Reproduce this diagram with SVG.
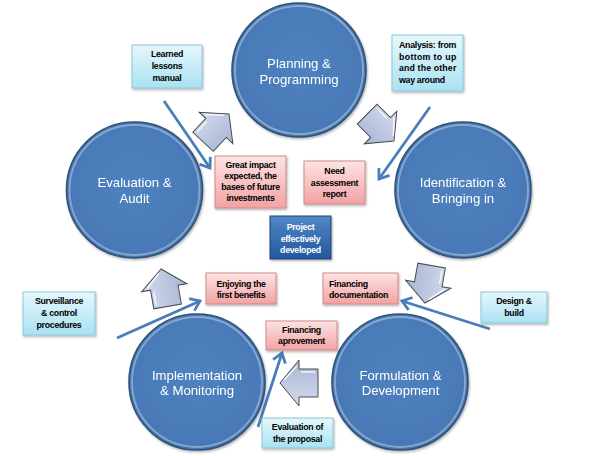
<svg xmlns="http://www.w3.org/2000/svg" xmlns:xlink="http://www.w3.org/1999/xlink" width="598" height="456" viewBox="0 0 598 456">
<style>
.circ{fill:url(#gCirc);stroke:#2f5376;stroke-width:1.6}
.ring{fill:none;stroke:#ffffff;stroke-opacity:0.35;stroke-width:1.8}
.ct{font-family:"Liberation Sans",Arial,sans-serif;font-size:13.2px;fill:#ffffff;text-anchor:middle}
.bt{font-family:"Liberation Sans",Arial,sans-serif;font-size:8.8px;letter-spacing:-0.3px;font-weight:bold;fill:#000000;text-anchor:middle}
.wt{fill:#ffffff}
.cyan{fill:url(#gCyan);stroke:#8cc7d8;stroke-width:1}
.pink{fill:url(#gPink);stroke:#d08a8a;stroke-width:1}
.blue{fill:url(#gBlue);stroke:#1f4476;stroke-width:1}
.thin{fill:none;stroke:#4a7ebb;stroke-width:2.8;marker-end:url(#chev)}
.blk{fill:url(#gBlk);stroke:#4a4a4a;stroke-width:1}
.hl{fill:none;stroke:#ffffff;stroke-opacity:0.8;stroke-width:1.5}
</style>
<defs>
<radialGradient id="gCirc" cx="0.5" cy="0.45" r="0.6">
<stop offset="0" stop-color="#4f82bf"/>
<stop offset="1" stop-color="#4677b4"/>
</radialGradient>
<linearGradient id="gCyan" x1="0" y1="0" x2="0" y2="1">
<stop offset="0" stop-color="#e6f7fc"/>
<stop offset="1" stop-color="#a9e2f2"/>
</linearGradient>
<linearGradient id="gPink" x1="0" y1="0" x2="0" y2="1">
<stop offset="0" stop-color="#fde3e3"/>
<stop offset="1" stop-color="#f2a3a3"/>
</linearGradient>
<linearGradient id="gBlue" x1="0" y1="0" x2="0" y2="1">
<stop offset="0" stop-color="#5088c8"/>
<stop offset="1" stop-color="#24569b"/>
</linearGradient>
<linearGradient id="gBlk" x1="0" y1="0" x2="0" y2="1">
<stop offset="0" stop-color="#d3dbec"/>
<stop offset="1" stop-color="#a8b6d6"/>
</linearGradient>
<filter id="sh" x="-10%" y="-10%" width="130%" height="130%">
<feDropShadow dx="1" dy="1.5" stdDeviation="1" flood-color="#000" flood-opacity="0.3"/>
</filter>
<marker id="chev" markerUnits="userSpaceOnUse" markerWidth="16" markerHeight="16" refX="11" refY="8" orient="auto">
<path d="M2,1.5 L11,8 L2,14.5" fill="none" stroke="#4a7ebb" stroke-width="2.8" stroke-linejoin="miter"/>
</marker>
<path id="blkArrow" d="M0,0 L-19,-23 L-19,-14 L-38,-14 L-38,14 L-19,14 L-19,23 Z"/>
</defs>

<rect width="598" height="456" fill="#ffffff"/>

<g id="connectors">
<use xlink:href="#blkArrow" class="blk" transform="translate(229,114) rotate(-47)"/>
<use xlink:href="#blkArrow" class="blk" transform="translate(394,141) rotate(45)"/>
<use xlink:href="#blkArrow" class="blk" transform="translate(425,303) rotate(100)"/>
<use xlink:href="#blkArrow" class="blk" transform="translate(280,383) rotate(180)"/>
<use xlink:href="#blkArrow" class="blk" transform="translate(161,269) rotate(-100)"/>
<path class="hl" d="M-35,-11 L-21,-11 M-17,-17 L-4,-3" transform="translate(229,114) rotate(-47)"/>
<path class="hl" d="M-35,-11 L-21,-11 M-17,-17 L-4,-3" transform="translate(394,141) rotate(45)"/>
<path class="hl" d="M-35,-11 L-21,-11 M-17,-17 L-4,-3" transform="translate(425,303) rotate(100)"/>
<path class="hl" d="M-35,11 L-21,11 M-17,17 L-4,3" transform="translate(280,383) rotate(180)"/>
<path class="hl" d="M-35,-11 L-21,-11 M-17,-17 L-4,-3" transform="translate(161,269) rotate(-100)"/>
<line class="thin" x1="164" y1="101" x2="210" y2="168"/>
<line class="thin" x1="430" y1="107" x2="379" y2="179"/>
<line class="thin" x1="117" y1="338" x2="200" y2="301"/>
<line class="thin" x1="490" y1="329" x2="402" y2="301"/>
<line class="thin" x1="258" y1="427" x2="282" y2="353"/>
</g>

<g id="planning" filter="url(#sh)">
<circle class="circ" cx="299" cy="70" r="67"/>
<circle class="ring" cx="299" cy="70" r="64"/>
<text class="ct" x="299" y="68">Planning &amp;</text>
<text class="ct" x="299" y="83.5">Programming</text>
</g>
<g id="evaluation" filter="url(#sh)">
<circle class="circ" cx="134.5" cy="190" r="68"/>
<circle class="ring" cx="134.5" cy="190" r="65"/>
<text class="ct" x="134.5" y="187">Evaluation &amp;</text>
<text class="ct" x="134.5" y="202.5">Audit</text>
</g>
<g id="identification" filter="url(#sh)">
<circle class="circ" cx="463" cy="190" r="68"/>
<circle class="ring" cx="463" cy="190" r="65"/>
<text class="ct" x="463" y="187">Identification &amp;</text>
<text class="ct" x="463" y="202.5">Bringing in</text>
</g>
<g id="implementation" filter="url(#sh)">
<circle class="circ" cx="197" cy="382" r="68"/>
<circle class="ring" cx="197" cy="382" r="65"/>
<text class="ct" x="197" y="379.5">Implementation</text>
<text class="ct" x="197" y="395">&amp; Monitoring</text>
</g>
<g id="formulation" filter="url(#sh)">
<circle class="circ" cx="400" cy="382" r="68"/>
<circle class="ring" cx="400" cy="382" r="65"/>
<text class="ct" x="400.5" y="379.5">Formulation &amp;</text>
<text class="ct" x="400.5" y="395">Development</text>
</g>

<g id="learned">
<rect class="cyan" x="132" y="45" width="70" height="43" filter="url(#sh)"/>
<text class="bt" x="167" y="57">Learned</text>
<text class="bt" x="167" y="69">lessons</text>
<text class="bt" x="167" y="81">manual</text>
</g>
<g id="analysis">
<rect class="cyan" x="392" y="35" width="71" height="56" filter="url(#sh)"/>
<text class="bt" x="399" y="48" style="text-anchor:start" textLength="57" lengthAdjust="spacing">Analysis: from</text>
<text class="bt" x="399" y="59.7" style="text-anchor:start" textLength="57" lengthAdjust="spacing">bottom to up</text>
<text class="bt" x="399" y="71.3" style="text-anchor:start" textLength="57" lengthAdjust="spacing">and the other</text>
<text class="bt" x="399" y="83" style="text-anchor:start">way around</text>
</g>
<g id="surveillance">
<rect class="cyan" x="23" y="292" width="72" height="43" filter="url(#sh)"/>
<text class="bt" x="59" y="304">Surveillance</text>
<text class="bt" x="59" y="316">&amp; control</text>
<text class="bt" x="59" y="328">procedures</text>
</g>
<g id="design">
<rect class="cyan" x="481" y="292" width="66" height="31" filter="url(#sh)"/>
<text class="bt" x="514" y="304">Design &amp;</text>
<text class="bt" x="514" y="316">build</text>
</g>
<g id="evalproposal">
<rect class="cyan" x="262" y="418" width="71" height="30" filter="url(#sh)"/>
<text class="bt" x="297.5" y="430">Evaluation of</text>
<text class="bt" x="297.5" y="441.5">the proposal</text>
</g>
<g id="greatimpact">
<rect class="pink" x="215" y="156" width="71" height="52" filter="url(#sh)"/>
<text class="bt" x="250.5" y="168">Great impact</text>
<text class="bt" x="250.5" y="179">expected, the</text>
<text class="bt" x="250.5" y="190">bases of future</text>
<text class="bt" x="250.5" y="200.7">investments</text>
</g>
<g id="need">
<rect class="pink" x="304" y="161" width="61" height="43" filter="url(#sh)"/>
<text class="bt" x="334.5" y="174.3">Need</text>
<text class="bt" x="334.5" y="185.7">assessment</text>
<text class="bt" x="334.5" y="197">report</text>
</g>
<g id="project">
<rect class="blue" x="270" y="216" width="61" height="43" filter="url(#sh)"/>
<text class="bt wt" x="300.5" y="230">Project</text>
<text class="bt wt" x="300.5" y="242">effectively</text>
<text class="bt wt" x="300.5" y="253.3">developed</text>
</g>
<g id="enjoying">
<rect class="pink" x="206" y="273" width="70" height="31" filter="url(#sh)"/>
<text class="bt" x="241" y="286.7">Enjoying the</text>
<text class="bt" x="241" y="298">first benefits</text>
</g>
<g id="findoc">
<rect class="pink" x="323" y="273" width="75" height="31" filter="url(#sh)"/>
<text class="bt" x="329" y="286.7" style="text-anchor:start">Financing</text>
<text class="bt" x="329" y="298" style="text-anchor:start">documentation</text>
</g>
<g id="finaprov">
<rect class="pink" x="266" y="321" width="71" height="29" filter="url(#sh)"/>
<text class="bt" x="301.5" y="332.7">Financing</text>
<text class="bt" x="301.5" y="344.3">aprovement</text>
</g>
</svg>
